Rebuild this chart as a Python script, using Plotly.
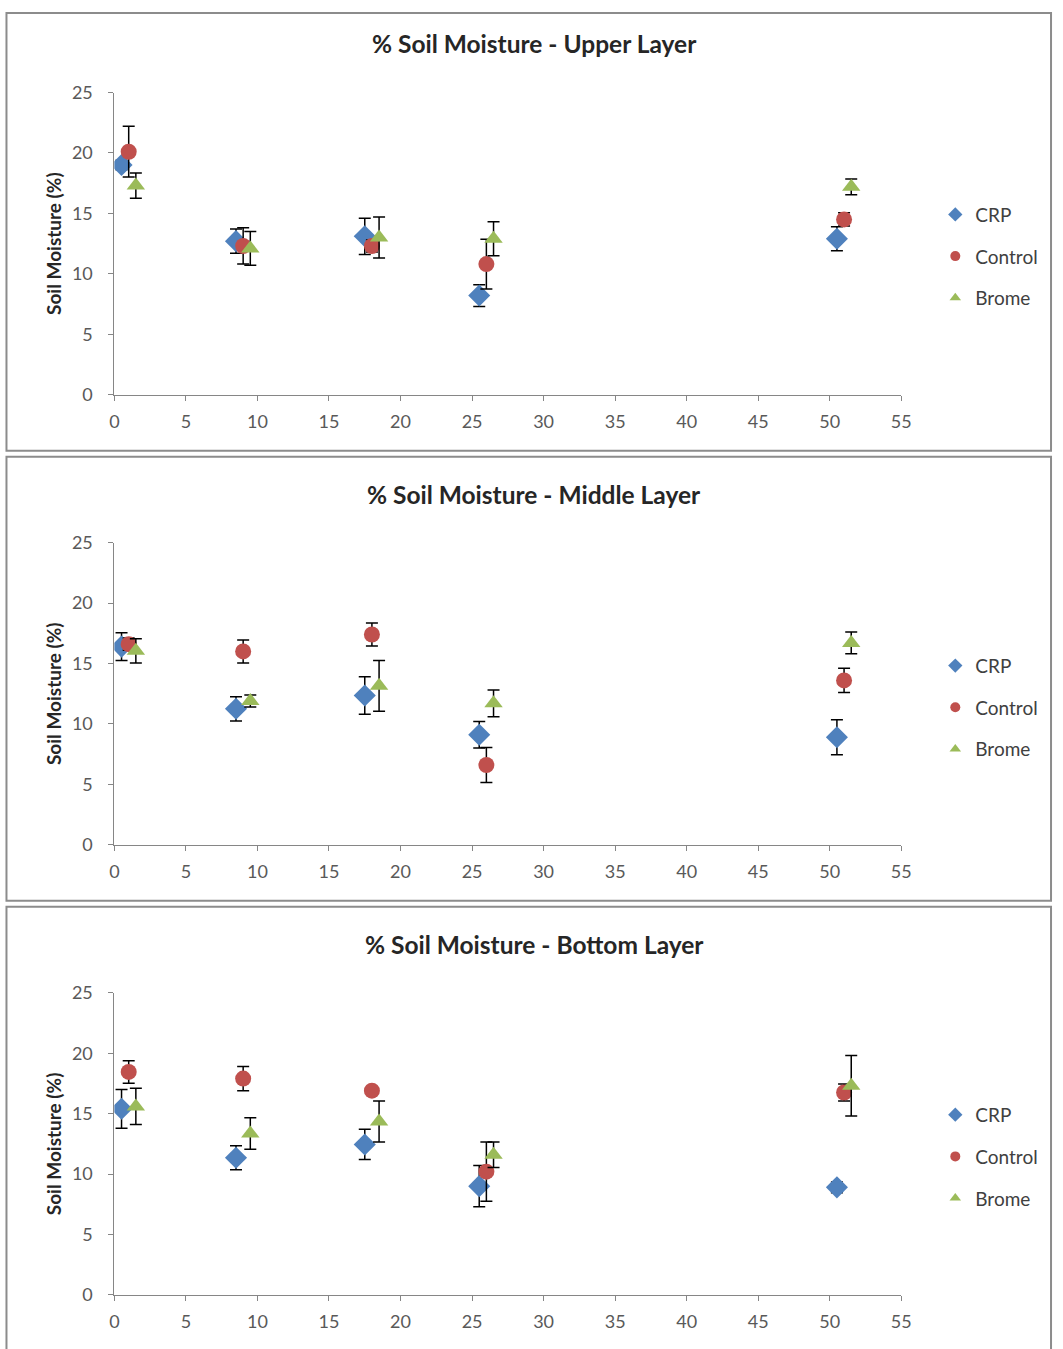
import plotly.graph_objects as go

# ---- data ----
series = ["CRP", "Control", "Brome"]
colors = {"CRP": "#4F81BD", "Control": "#C0504D", "Brome": "#9BBB59"}
symbols = {"CRP": "diamond", "Control": "circle", "Brome": "triangle-up"}

x_crp = [0.5, 8.5, 17.5, 25.5, 50.5]
x_control = [1, 9, 18, 26, 51]
x_brome = [1.5, 9.5, 18.5, 26.5, 51.5]

# Upper layer
upper_crp = [19.0, 12.7, 13.1, 8.2, 12.9]
upper_crp_err = [0.4, 1.0, 1.5, 0.9, 1.0]
upper_control = [20.1, 12.3, 12.3, 10.8, 14.5]
upper_control_err = [2.1, 1.5, 0.5, 2.05, 0.55]
upper_brome = [17.3, 12.1, 13.0, 12.9, 17.2]
upper_brome_err = [1.05, 1.4, 1.7, 1.4, 0.65]

# Middle layer
middle_crp = [16.4, 11.25, 12.35, 9.1, 8.9]
middle_crp_err = [1.15, 1.0, 1.55, 1.1, 1.45]
middle_control = [16.6, 16.0, 17.4, 6.6, 13.6]
middle_control_err = [0.5, 0.95, 0.95, 1.45, 1.0]
middle_brome = [16.05, 11.9, 13.15, 11.7, 16.7]
middle_brome_err = [1.0, 0.5, 2.1, 1.1, 0.9]

# Bottom layer
bottom_crp = [15.4, 11.35, 12.45, 9.0, 8.9]
bottom_crp_err = [1.6, 1.0, 1.25, 1.7, 0.45]
bottom_control = [18.45, 17.9, 16.9, 10.2, 16.75]
bottom_control_err = [0.93, 1.0, 0.3, 2.45, 0.7]
bottom_brome = [15.6, 13.35, 14.35, 11.6, 17.3]
bottom_brome_err = [1.5, 1.3, 1.7, 1.05, 2.5]

titles = ["% Soil Moisture - Upper Layer", "% Soil Moisture - Middle Layer",
          "% Soil Moisture - Bottom Layer"]
x_ticks = list(range(0, 56, 5))
y_ticks = list(range(0, 26, 5))

panels = [
    {"CRP": (x_crp, upper_crp, upper_crp_err),
     "Control": (x_control, upper_control, upper_control_err),
     "Brome": (x_brome, upper_brome, upper_brome_err)},
    {"CRP": (x_crp, middle_crp, middle_crp_err),
     "Control": (x_control, middle_control, middle_control_err),
     "Brome": (x_brome, middle_brome, middle_brome_err)},
    {"CRP": (x_crp, bottom_crp, bottom_crp_err),
     "Control": (x_control, bottom_control, bottom_control_err),
     "Brome": (x_brome, bottom_brome, bottom_brome_err)},
]

W, H = 1063, 1349
FONT = "Lato"

# target positions are measured on the reference picture; map them to page pixels
AX, SX = 4.6, 0.986
AY, SY = 11.5, 0.9834


def px_x(p):
    return ((p - AX) / SX) / W


def px_y(p):
    return 1 - ((p - AY) / SY) / H


# reference pixel layout: (frame_top, frame_bottom, plot_top, plot_bottom, title_y, legend_center)
layout_px = [
    (1, 450, 92, 394, 43, 256),
    (456, 900, 542, 844, 494, 707),
    (906, 1370, 992, 1294, 944, 1156),
]

fig = go.Figure()
shapes = []
annotations = []
layout_kwargs = {}

for i, (data, title, lp) in enumerate(zip(panels, titles, layout_px)):
    n = "" if i == 0 else str(i + 1)
    xa = "x" + n
    ya = "y" + n
    leg = "legend" + n
    for s in series:
        xs, ys, es = data[s]
        fig.add_trace(go.Scatter(
            x=xs, y=ys, mode="markers", name=s, showlegend=False,
            xaxis=xa, yaxis=ya,
            marker=dict(symbol=symbols[s], color=colors[s], size=16 if s != "CRP" else 17,
                        line=dict(width=0)),
            error_y=dict(type="data", array=es, visible=True, color="black",
                         thickness=1.5, width=6),
        ))
    for s in series:
        fig.add_trace(go.Scatter(
            x=[None], y=[None], mode="markers", name=s, showlegend=True,
            legend=leg, legendgroup=s + n, xaxis=xa, yaxis=ya,
            marker=dict(symbol=symbols[s], color=colors[s], size=10 if s != "CRP" else 11),
        ))
    ft, fb, pt, pb, ty, lc = lp
    layout_kwargs["xaxis" + n] = dict(
        domain=[px_x(114), px_x(901)], anchor=ya, range=[0, 55],
        tickvals=x_ticks, ticks="outside", ticklen=5, tickcolor="#868686",
        showline=True, linecolor="#868686", linewidth=1, showgrid=False,
        zeroline=False, tickfont=dict(family=FONT, size=18, color="#595959"),
        ticklabelstandoff=6,
    )
    layout_kwargs["yaxis" + n] = dict(
        domain=[px_y(pb), px_y(pt)], anchor=xa, range=[0, 25],
        tickvals=y_ticks, ticks="outside", ticklen=5, tickcolor="#868686",
        showline=True, linecolor="#868686", linewidth=1, showgrid=False,
        zeroline=False, tickfont=dict(family=FONT, size=18, color="#595959"),
        ticklabelstandoff=12,
    )
    layout_kwargs[leg] = dict(
        x=px_x(935), xanchor="left", y=px_y(lc), yanchor="middle",
        font=dict(family=FONT, size=19, color="#404040"),
        bgcolor="rgba(0,0,0,0)", tracegroupgap=14, itemsizing="trace",
    )
    y0 = max(px_y(fb), -0.02)
    y1 = min(px_y(ft), 1 - 1.0 / H)
    shapes.append(dict(type="rect", xref="paper", yref="paper",
                       x0=1.5 / W, x1=1 - 2.0 / W, y0=y0, y1=y1,
                       line=dict(color="#8C8C8C", width=2), fillcolor="rgba(0,0,0,0)"))
    annotations.append(dict(text="<b>%s</b>" % title, xref="paper", yref="paper",
                            x=px_x(534), y=px_y(ty), showarrow=False,
                            xanchor="center", yanchor="middle",
                            font=dict(family=FONT, size=24.5, color="#262626")))
    annotations.append(dict(text="<b>Soil Moisture (%)</b>", xref="paper", yref="paper",
                            x=px_x(53), y=px_y((pt + pb) / 2), showarrow=False,
                            textangle=-90, xanchor="center", yanchor="middle",
                            font=dict(family=FONT, size=19, color="#262626")))

fig.update_layout(
    width=W, height=H, margin=dict(l=0, r=0, t=0, b=0),
    paper_bgcolor="white", plot_bgcolor="white",
    shapes=shapes, annotations=annotations, **layout_kwargs,
)

post = (
    "document.body.style.margin='0';"
    "document.body.style.overflow='hidden';"
    "var d=document.getElementById('{plot_id}');"
    "d.style.position='fixed';d.style.top='0px';d.style.left='0px';"
)
fig.write_html("out.html", config={"displayModeBar": False}, post_script=post)
